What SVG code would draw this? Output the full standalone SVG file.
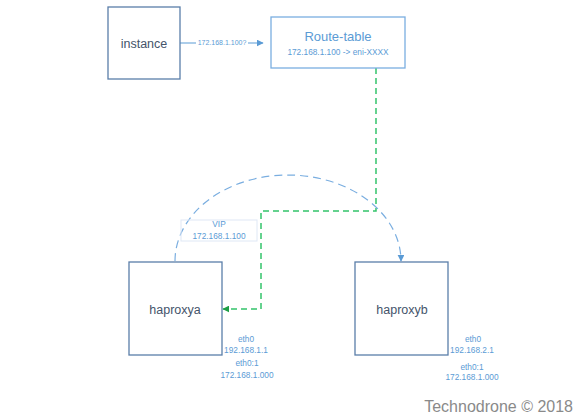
<svg xmlns="http://www.w3.org/2000/svg" width="580" height="417" viewBox="0 0 580 417">
<style>
.box{fill:#fff;stroke:#5a7ea9;stroke-width:1.3}
.rt{fill:#fff;stroke:#7aaee0;stroke-width:1.3}
.big{font-family:"Liberation Sans",Arial,sans-serif;font-size:12.5px;fill:#44546a;text-anchor:middle}
.sm{font-family:"Liberation Sans",Arial,sans-serif;font-size:8.3px;fill:#5b9bd5;text-anchor:middle}
.green{fill:none;stroke:#33c46b;stroke-width:1.5;stroke-dasharray:6 4}
.blue{fill:none;stroke:#7aaee0;stroke-width:1.2;stroke-dasharray:8 5}
</style>
<defs>
<marker id="ab" viewBox="0 0 10 10" refX="9" refY="5" markerWidth="7" markerHeight="7" orient="auto" markerUnits="userSpaceOnUse"><path d="M0,0L10,5L0,10z" fill="#5b9bd5"/></marker>
<marker id="ag" viewBox="0 0 10 10" refX="9" refY="5" markerWidth="7" markerHeight="7" orient="auto" markerUnits="userSpaceOnUse"><path d="M0,0L10,5L0,10z" fill="#1e9e45"/></marker>
</defs>
<rect width="580" height="417" fill="#fff"/>
<g id="connectors">
<path d="M180,43 H263" fill="none" stroke="#5b9bd5" stroke-width="1.2" marker-end="url(#ab)"/>
<rect x="196" y="37" width="52" height="10" fill="#fff"/>
<text class="sm" x="222" y="45" style="font-size:7px">172.168.1.100?</text>
<path class="green" d="M376,68 V211 H261 V309 H223" marker-end="url(#ag)"/>
<path class="blue" d="M175,261 A113,86 0 0 1 401,261" marker-end="url(#ab)"/>
<g id="vip">
<rect x="181" y="220" width="76" height="21" fill="none" stroke="#dfe8f5" stroke-width="1"/>
<text class="sm" x="219" y="227">VIP</text>
<text class="sm" x="219" y="239">172.168.1.100</text>
</g>
</g>
<g id="instance">
<rect class="box" x="108" y="7" width="72" height="72"/>
<text class="big" x="144" y="48">instance</text>
</g>
<g id="route-table">
<rect class="rt" x="271" y="17" width="134" height="51"/>
<text class="big" x="338" y="41" style="fill:#5b9bd5;font-size:13px">Route-table</text>
<text class="sm" x="338" y="55">172.168.1.100 -&gt; eni-XXXX</text>
</g>
<g id="haproxya">
<rect class="box" x="129" y="262" width="93" height="93"/>
<text class="big" x="175" y="314">haproxya</text>
<text class="sm" x="246" y="342">eth0</text>
<text class="sm" x="246" y="353">192.168.1.1</text>
<text class="sm" x="247" y="366">eth0:1</text>
<text class="sm" x="247" y="378">172.168.1.000</text>
</g>
<g id="haproxyb">
<rect class="box" x="355" y="262" width="93" height="93"/>
<text class="big" x="402" y="314">haproxyb</text>
<text class="sm" x="473" y="342">eth0</text>
<text class="sm" x="472" y="353">192.168.2.1</text>
<text class="sm" x="472" y="370">eth0:1</text>
<text class="sm" x="472" y="380">172.168.1.000</text>
</g>
<text x="573" y="412" font-family="'Liberation Sans',Arial,sans-serif" font-size="16" fill="#8a8a8a" text-anchor="end">Technodrone © 2018</text>
</svg>
